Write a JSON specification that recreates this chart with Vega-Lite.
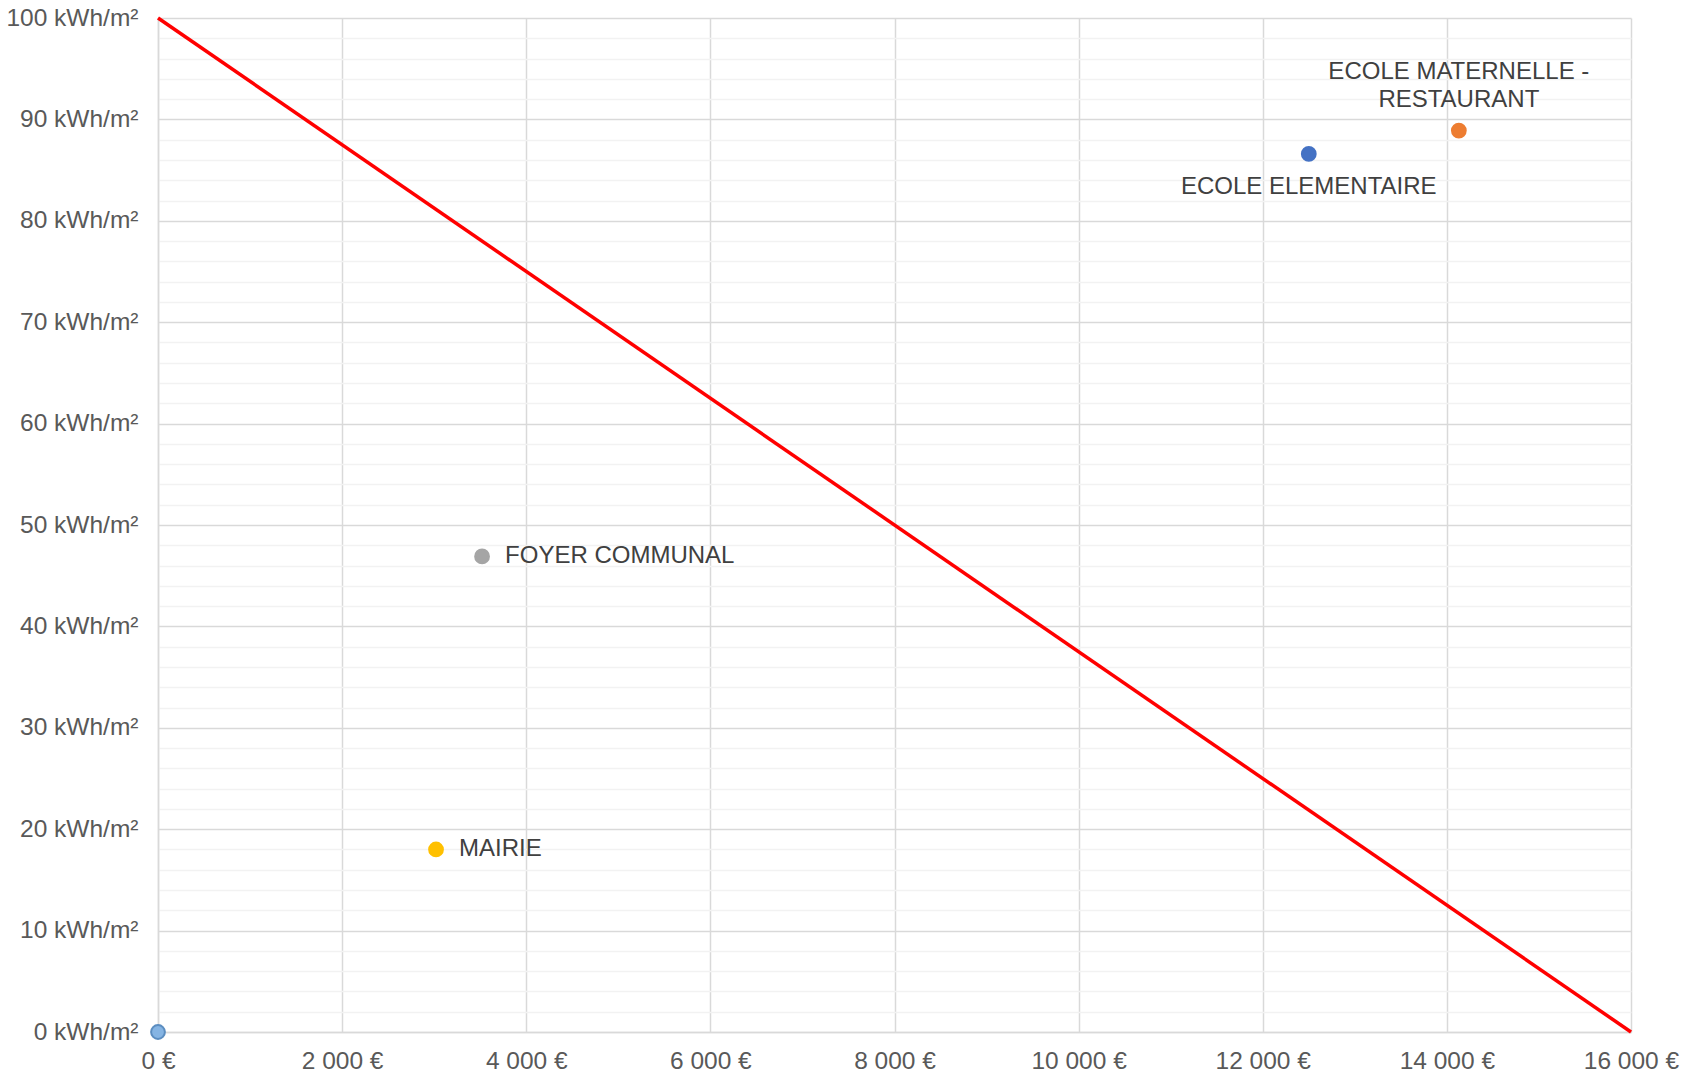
{
  "$schema": "https://vega.github.io/schema/vega-lite/v6.json",
  "width": 1473,
  "height": 1014,
  "autosize": {"type": "none"},
  "padding": {"left": 158, "top": 18, "right": 53, "bottom": 44},
  "background": "white",
  "config": {
    "view": {"stroke": null},
    "font": "Liberation Sans"
  },
  "datasets": {
    "points": [
      {"nom": "ECOLE ELEMENTAIRE", "cout": 12500, "conso": 86.6},
      {"nom": "ECOLE MATERNELLE - RESTAURANT", "cout": 14130, "conso": 88.9},
      {"nom": "FOYER COMMUNAL", "cout": 3520, "conso": 46.9},
      {"nom": "MAIRIE", "cout": 3020, "conso": 18.0},
      {"nom": "ORIGINE", "cout": 0, "conso": 0}
    ],
    "ligne": [
      {"cout": 0, "conso": 100},
      {"cout": 16000, "conso": 0}
    ]
  },
  "layer": [
    {
      "data": {"name": "ligne"},
      "mark": {"type": "line", "color": "#FF0000", "strokeWidth": 3.5, "clip": false},
      "encoding": {
        "x": {
          "field": "cout", "type": "quantitative",
          "scale": {"domain": [0, 16000], "nice": false},
          "axis": {
            "values": [0, 2000, 4000, 6000, 8000, 10000, 12000, 14000, 16000],
            "tickCount": 100,
            "labelExpr": "replace(format(datum.value, ',d'), ',', ' ') + ' €'",
            "title": null,
            "ticks": false,
            "labelPadding": 17,
            "labelFontSize": 24.5,
            "labelColor": "#595959",
            "labelFont": "Liberation Sans",
            "labelOverlap": false,
            "domainColor": "#D9D9D9",
            "domainWidth": 1.5,
            "gridColor": "#D9D9D9",
            "gridWidth": 1.5,
            "labelFlush": false
          }
        },
        "y": {
          "field": "conso", "type": "quantitative",
          "scale": {"domain": [0, 100], "nice": false},
          "axis": {
            "values": [0,2,4,6,8,10,12,14,16,18,20,22,24,26,28,30,32,34,36,38,40,42,44,46,48,50,52,54,56,58,60,62,64,66,68,70,72,74,76,78,80,82,84,86,88,90,92,94,96,98,100],
            "tickCount": 200,
            "labelExpr": "datum.value % 10 === 0 ? datum.value + ' kWh/m²' : ''",
            "title": null,
            "ticks": false,
            "labelPadding": 20,
            "labelFontSize": 24.5,
            "labelColor": "#595959",
            "labelFont": "Liberation Sans",
            "labelFlush": false,
            "labelOverlap": false,
            "domainColor": "#D9D9D9",
            "domainWidth": 1.5,
            "gridColor": {"condition": {"test": "datum.value % 10 === 0", "value": "#D9D9D9"}, "value": "#F2F2F2"},
            "gridWidth": 1.5
          }
        }
      }
    },
    {
      "data": {"name": "points"},
      "mark": {"type": "point", "filled": true, "size": 190, "opacity": 1, "clip": false},
      "encoding": {
        "x": {"field": "cout", "type": "quantitative"},
        "y": {"field": "conso", "type": "quantitative"},
        "color": {
          "field": "nom", "type": "nominal", "legend": null,
          "scale": {
            "domain": ["ECOLE ELEMENTAIRE", "ECOLE MATERNELLE - RESTAURANT", "FOYER COMMUNAL", "MAIRIE", "ORIGINE"],
            "range": ["#4472C4", "#ED7D31", "#A5A5A5", "#FFC000", "#85B4E3"]
          }
        },
        "stroke": {
          "field": "nom", "type": "nominal", "legend": null,
          "scale": {
            "domain": ["ECOLE ELEMENTAIRE", "ECOLE MATERNELLE - RESTAURANT", "FOYER COMMUNAL", "MAIRIE", "ORIGINE"],
            "range": ["#4472C4", "#ED7D31", "#A5A5A5", "#FFC000", "#5B8DC0"]
          }
        }
      }
    },
    {
      "data": {"name": "points"},
      "transform": [{"filter": "datum.nom === 'FOYER COMMUNAL' || datum.nom === 'MAIRIE'"}],
      "mark": {"type": "text", "align": "left", "baseline": "middle", "dx": 23, "fontSize": 24, "color": "#404040", "font": "Liberation Sans"},
      "encoding": {
        "x": {"field": "cout", "type": "quantitative"},
        "y": {"field": "conso", "type": "quantitative"},
        "text": {"field": "nom"}
      }
    },
    {
      "data": {"name": "points"},
      "transform": [{"filter": "datum.nom === 'ECOLE ELEMENTAIRE'"}],
      "mark": {"type": "text", "align": "center", "baseline": "middle", "dy": 33, "fontSize": 24, "color": "#404040", "font": "Liberation Sans"},
      "encoding": {
        "x": {"field": "cout", "type": "quantitative"},
        "y": {"field": "conso", "type": "quantitative"},
        "text": {"field": "nom"}
      }
    },
    {
      "data": {"name": "points"},
      "transform": [{"filter": "datum.nom === 'ECOLE MATERNELLE - RESTAURANT'"}],
      "mark": {"type": "text", "align": "center", "baseline": "middle", "dy": -59, "fontSize": 24, "lineHeight": 28, "color": "#404040", "font": "Liberation Sans"},
      "encoding": {
        "x": {"field": "cout", "type": "quantitative"},
        "y": {"field": "conso", "type": "quantitative"},
        "text": {"value": ["ECOLE MATERNELLE -", "RESTAURANT"]}
      }
    }
  ]
}
